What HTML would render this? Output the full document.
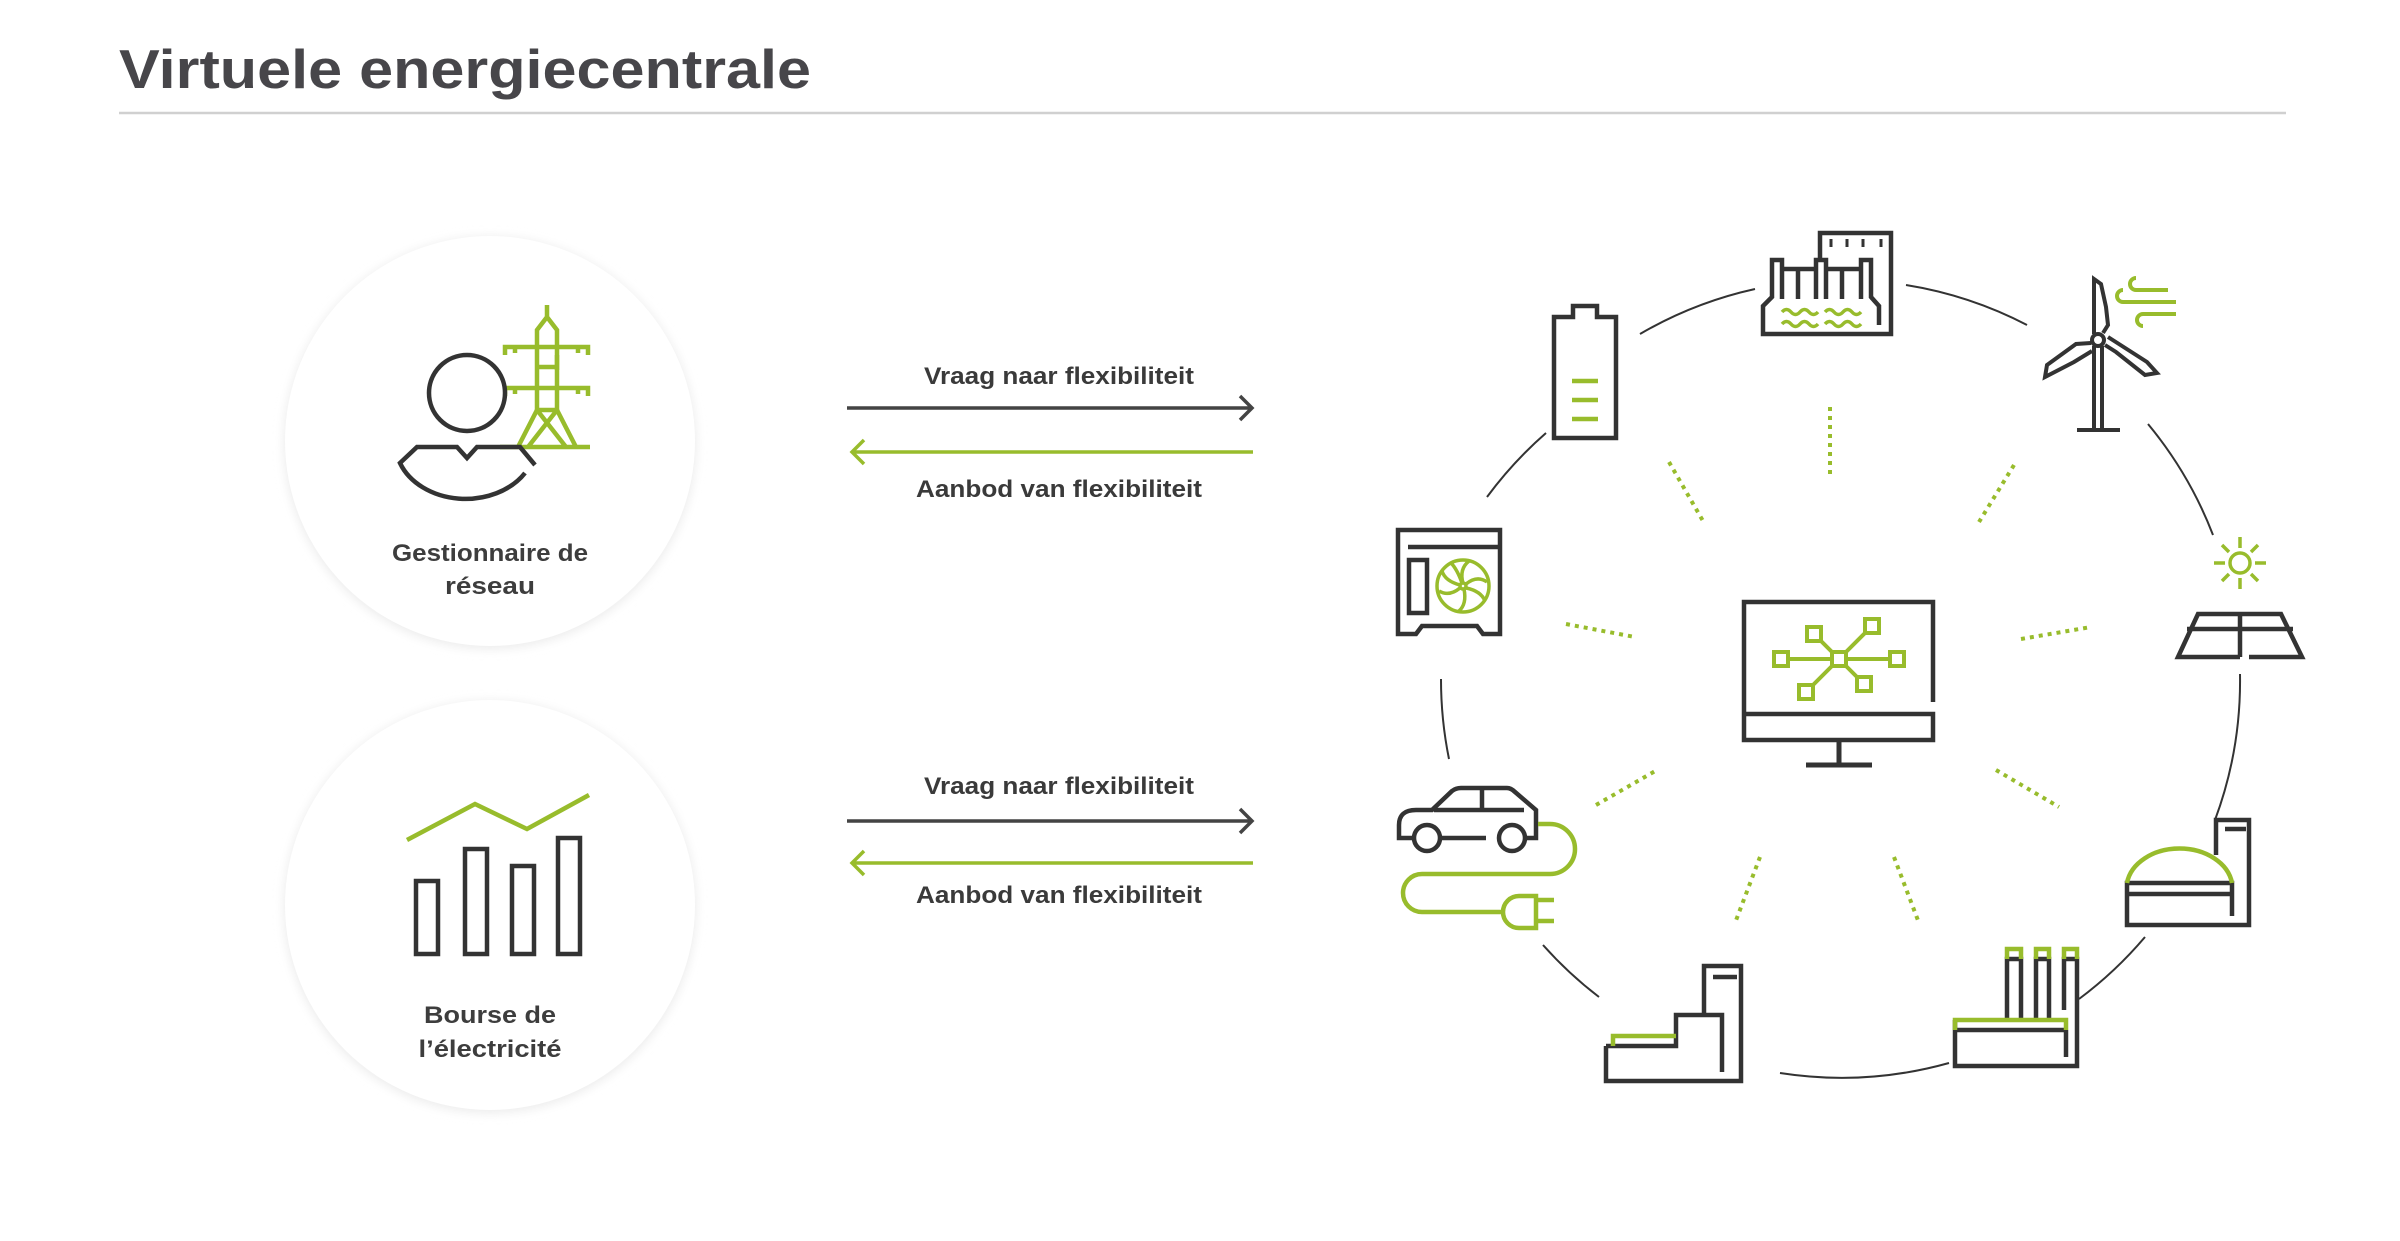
<!DOCTYPE html>
<html><head><meta charset="utf-8"><style>
html,body{margin:0;padding:0;background:#fff;}
svg{display:block;}
text{font-family:"Liberation Sans",sans-serif;}
</style></head><body>
<svg width="2400" height="1241" viewBox="0 0 2400 1241" xmlns="http://www.w3.org/2000/svg">
<defs>
<filter id="sh" x="-20%" y="-20%" width="140%" height="140%"><feGaussianBlur stdDeviation="5"/></filter>
</defs>
<rect width="2400" height="1241" fill="#fff"/>
<text x="119" y="88" font-size="55" font-weight="bold" fill="#47464a" textLength="692" lengthAdjust="spacingAndGlyphs">Virtuele energiecentrale</text>
<line x1="119" y1="113" x2="2286" y2="113" stroke="#d0d0d0" stroke-width="2.5"/>

<!-- left circles -->
<circle cx="490" cy="443" r="206" fill="#ececec" filter="url(#sh)"/>
<circle cx="490" cy="441" r="205" fill="#fff"/>
<circle cx="490" cy="907" r="206" fill="#ececec" filter="url(#sh)"/>
<circle cx="490" cy="905" r="205" fill="#fff"/>

<g fill="none" stroke-width="4.5">
<g stroke="#98bc2c">
<path d="M547,305 V317 L537,330 V410 M547,317 L557,330 V410"/>
<path d="M505,355 V347 H588 V355 M515,347 V353 M578,347 V353"/>
<path d="M505,396 V388 H588 V396 M515,388 V394 M578,388 V394"/>
<path d="M537,367 H557 M557,355 V370"/>
<path d="M537,410 L518,447 M557,410 L576,447 M537,410 L566,447 M557,410 L528,447 M537,410 H557 M500,447 H590"/>
</g>
<g stroke="#333">
<circle cx="467" cy="393" r="38" fill="#fff"/>
<path d="M525,473 A70,55 0 0 1 400,463 L417,447 H457 L467,458 L477,447 H520 L535,465"/>
</g>
<g stroke="#333">
<rect x="416" y="881" width="22" height="73"/>
<rect x="465" y="849" width="22" height="105"/>
<rect x="512" y="866" width="22" height="88"/>
<rect x="558" y="838" width="22" height="116"/>
</g>
<path d="M407,840 L475,804 L527,829 L589,795" stroke="#98bc2c"/>
</g>
<g font-size="24" font-weight="bold" fill="#3d3d3d" text-anchor="middle">
<text x="490" y="561" textLength="196" lengthAdjust="spacingAndGlyphs">Gestionnaire de</text>
<text x="490" y="594" textLength="90" lengthAdjust="spacingAndGlyphs">réseau</text>
<text x="490" y="1023" textLength="132" lengthAdjust="spacingAndGlyphs">Bourse de</text>
<text x="490" y="1057" textLength="143" lengthAdjust="spacingAndGlyphs">l’électricité</text>
</g>

<!-- arrows -->
<g fill="none" stroke-width="3.5">
<path d="M847,408 H1252 M1240,396 L1252,408 L1240,420" stroke="#444"/>
<path d="M852,452 H1253 M864,440 L852,452 L864,464" stroke="#98bc2c"/>
<path d="M847,821 H1252 M1240,809 L1252,821 L1240,833" stroke="#444"/>
<path d="M852,863 H1253 M864,851 L852,863 L864,875" stroke="#98bc2c"/>
</g>
<g font-size="24" font-weight="bold" fill="#3a3a3a" text-anchor="middle">
<text x="1059" y="384" textLength="270" lengthAdjust="spacingAndGlyphs">Vraag naar flexibiliteit</text>
<text x="1059" y="497" textLength="286" lengthAdjust="spacingAndGlyphs">Aanbod van flexibiliteit</text>
<text x="1059" y="794" textLength="270" lengthAdjust="spacingAndGlyphs">Vraag naar flexibiliteit</text>
<text x="1059" y="903" textLength="286" lengthAdjust="spacingAndGlyphs">Aanbod van flexibiliteit</text>
</g>

<g transform="translate(19,7)">
<!-- ring arcs -->
<g fill="none" stroke="#333" stroke-width="2">
<path d="M1621,327 A399,399 0 0 1 1736,282"/>
<path d="M1887,278 A399,399 0 0 1 2008,318"/>
<path d="M2129,417 A399,399 0 0 1 2194,528"/>
<path d="M2221,667 A399,399 0 0 1 2196,813"/>
<path d="M2126,930 A399,399 0 0 1 2060,992"/>
<path d="M1930,1056 A399,399 0 0 1 1761,1066"/>
<path d="M1580,990 A399,399 0 0 1 1524,938"/>
<path d="M1430,752 A399,399 0 0 1 1422,672"/>
<path d="M1468,490 A399,399 0 0 1 1527,426"/>
</g>

<g fill="none" stroke="#98bc2c" stroke-width="4" stroke-dasharray="4 5">
<path d="M1811,400 V468"/>
<path d="M1650,455 L1684,514"/>
<path d="M1995,458 L1960,515"/>
<path d="M1547,617 L1616,630"/>
<path d="M2002,632 L2072,620"/>
<path d="M1577,798 L1638,763"/>
<path d="M1977,763 L2040,800"/>
<path d="M1741,850 L1716,916"/>
<path d="M1875,850 L1900,916"/>
</g>

<g fill="none" stroke-width="4.5">
<g stroke="#333">
<path d="M1914,695 V595 H1725 V733 H1914 V707 H1725"/>
<path d="M1820,733 V758 M1787,758 H1853" stroke-width="5"/>
</g>
<g stroke="#98bc2c" stroke-width="4">
<path d="M1769,652 H1871 M1820,652 L1795,627 M1820,652 L1853,619 M1820,652 L1787,685 M1820,652 L1845,677"/>
<rect x="1813" y="645" width="14" height="14" fill="#fff"/>
<rect x="1755" y="645" width="14" height="14" fill="#fff"/>
<rect x="1871" y="645" width="14" height="14" fill="#fff"/>
<rect x="1788" y="620" width="14" height="14" fill="#fff"/>
<rect x="1846" y="612" width="14" height="14" fill="#fff"/>
<rect x="1780" y="678" width="14" height="14" fill="#fff"/>
<rect x="1838" y="670" width="14" height="14" fill="#fff"/>
</g>

<path d="M1535,310 H1554 V299 H1578 V310 H1597 V431 H1535 Z" stroke="#333"/>
<path d="M1553,374 H1579 M1553,393 H1579 M1553,412 H1579" stroke="#98bc2c"/>

<g stroke="#333">
<path d="M1801,253 V226 H1872 V327 H1744 V299 L1753,290 V253 H1763 V292 M1779,262 V292 M1763,262 H1797 M1797,292 V253 H1807 V292 M1807,262 H1842 M1823,262 V292 M1842,292 V253 H1852 V290 L1860,299 V318"/>
<path d="M1812,232 V240 M1828,232 V240 M1844,232 V240 M1862,232 V240" stroke-width="3"/>
</g>
<path d="M1763,305 q4.5,-5 9,0 t9,0 t9,0 t9,0 M1763,317 q4.5,-5 9,0 t9,0 t9,0 t9,0 M1806,305 q4.5,-5 9,0 t9,0 t9,0 t9,0 M1806,317 q4.5,-5 9,0 t9,0 t9,0 t9,0" stroke="#98bc2c" stroke-width="3.5"/>

<g stroke="#333" stroke-width="4">
<path d="M2075,339 V423 M2083,339 V423 M2058,423 H2101"/>
<path d="M2075,327 V272 L2082,277 L2087,300 L2089,318 L2084,326"/>
<path d="M2072,336 L2057,337 L2028,358 L2026,370 L2055,355 L2073,344"/>
<path d="M2086,338 L2097,345 L2126,368 L2138,366 L2128,355 L2089,330"/>
<circle cx="2079" cy="333" r="6" fill="#fff"/>
</g>
<g stroke="#98bc2c" stroke-width="4">
<path d="M2149,283 H2117 A6,6 0 0 1 2117,271"/>
<path d="M2157,295 H2104 A6,6 0 0 1 2104,283"/>
<path d="M2157,307 H2124 A6,6 0 0 0 2124,319"/>
</g>

<g stroke="#98bc2c" stroke-width="3.5">
<circle cx="2221" cy="556" r="10"/>
<path d="M2221,530 V541 M2221,571 V582 M2195,556 H2206 M2236,556 H2247 M2203,538 L2210,545 M2232,567 L2239,574 M2239,538 L2232,545 M2210,567 L2203,574"/>
</g>
<path d="M2221,650 H2159 L2179,607 H2262 L2283,650 H2230 M2221,607 V650 M2168,622 H2274" stroke="#333"/>

<path d="M2197,848 V813 H2230 V918 H2108 V876 H2213 V909 M2108,887 H2213 M2206,822 H2227" stroke="#333"/>
<path d="M2108,876 A53,40 0 0 1 2213,876" stroke="#98bc2c"/>

<g stroke="#333">
<path d="M1936,1013 V1059 H2058 V952 H2045 V1003 M2047,1023 V1050 M1936,1023 H2047"/>
<path d="M1988,1013 V952 H2002 V1013 M2017,1013 V952 H2030 V1013"/>
</g>
<path d="M1936,1023 V1013 H2047 V1023 M1988,952 V942 H2002 V952 M2017,952 V942 H2030 V952 M2045,952 V942 H2058 V952" stroke="#98bc2c"/>

<path d="M1587,1039 H1657 V1008 H1703 V1065 M1685,1008 V959 H1722 V1074 H1587 V1039 M1694,970 H1718" stroke="#333"/>
<path d="M1594,1039 V1029 H1657" stroke="#98bc2c"/>

<g stroke="#333">
<path d="M1379,627 V523 H1481 V627 H1464 L1458,619 H1403 L1397,627 Z"/>
<path d="M1389,540 H1479"/>
<rect x="1390" y="553" width="18" height="53"/>
</g>
<g stroke="#98bc2c" stroke-width="3.5">
<circle cx="1444" cy="579" r="26"/>
<circle cx="1444" cy="579" r="3"/>
<path d="M1444,576 Q1440,562 1450,554 M1447,577 Q1458,568 1468,575 M1447,581 Q1462,584 1466,594 M1445,582 Q1448,597 1440,604 M1441,581 Q1430,590 1420,584 M1441,578 Q1426,574 1423,564 M1443,576 Q1438,562 1432,556"/>
</g>

<g stroke="#333">
<path d="M1395,831 H1380 V818 Q1380,803 1397,803 H1413 L1433,784 Q1437,781 1442,781 H1488 Q1492,781 1496,785 L1517,803 V831 H1506"/>
<path d="M1415,803 H1505 M1463,781 V803 M1421,831 H1467"/>
<circle cx="1408" cy="831" r="13" fill="#fff"/>
<circle cx="1493" cy="831" r="13" fill="#fff"/>
</g>
<g stroke="#98bc2c">
<path d="M1519,817 H1531 A25,25 0 0 1 1531,867 H1403 A19,19 0 0 0 1403,905 H1485"/>
<path d="M1517,889 H1500 A16,16 0 0 0 1500,921 H1517 Z M1517,893 H1535 M1517,914 H1535"/>
</g>
</g>
</g>
</svg>
</body></html>
